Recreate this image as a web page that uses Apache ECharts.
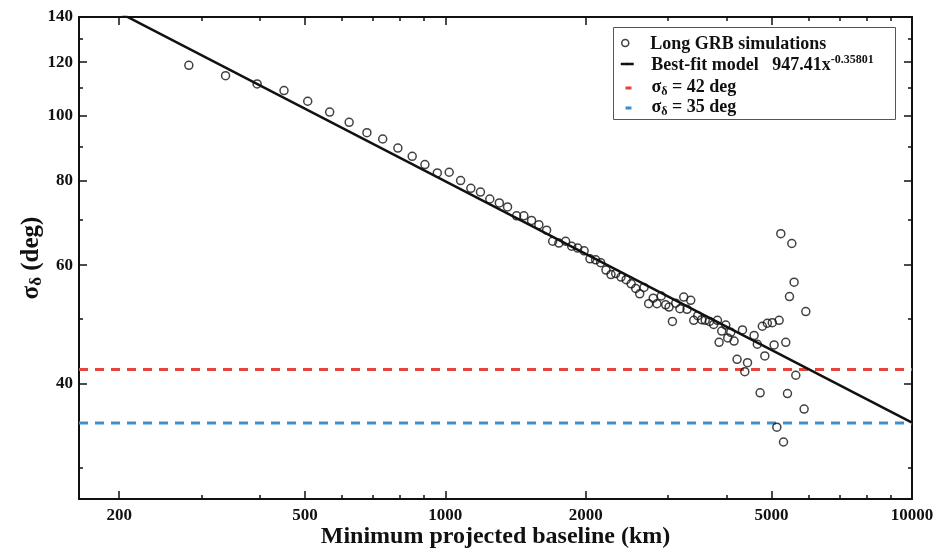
<!DOCTYPE html>
<html>
<head>
<meta charset="utf-8">
<script src="https://cdn.jsdelivr.net/npm/echarts@6/dist/echarts.min.js"></script>
<style>
  html, body { margin: 0; padding: 0; background: #fff; }
  #chart { width: 937px; height: 548px; }
</style>
</head>
<body>
<div id="chart"></div>
<script>
// Simulated long GRBs: minimum projected baseline (km) vs. localisation spread (deg)
const baselineKm = [
  282, 338, 395, 451, 507, 565, 622, 679, 734, 791,
  849, 904, 961, 1019, 1078, 1134, 1189, 1245, 1305, 1359,
  1421, 1473, 1530, 1586, 1648, 1698, 1751, 1810, 1865, 1921,
  1983, 2041, 2099, 2152, 2209, 2264, 2317, 2379, 2440, 2501,
  2558, 2609, 2665, 2727, 2789, 2841, 2901, 2966, 3015, 3066,
  3116, 3182, 3242, 3295, 3356, 3406, 3474, 3543, 3605, 3681,
  3758, 3829, 3911, 3989, 4089, 3860, 4029, 4156, 4332, 4218,
  4441, 4382, 4588, 4661, 4778, 4897, 4837, 5019, 5064, 5191,
  5364, 4726, 5409, 5132, 5304, 5234, 5526, 5589, 5463, 5636, 5872, 5921
];
const sigmaDeg = [
  118.7, 114.6, 111.4, 108.9, 105.0, 101.2, 97.7, 94.3, 92.3, 89.5,
  87.0, 84.6, 82.2, 82.4, 80.1, 78.0, 77.0, 75.2, 74.2, 73.2,
  71.0, 71.0, 69.9, 68.9, 67.6, 65.1, 64.7, 65.1, 64.0, 63.6,
  63.0, 61.3, 61.1, 60.5, 59.0, 58.1, 58.3, 57.6, 57.1, 56.3,
  55.4, 54.4, 55.6, 52.6, 53.6, 52.6, 54.0, 52.4, 52.0, 49.5,
  52.7, 51.7, 53.8, 51.6, 53.2, 49.7, 50.5, 49.8, 49.7, 49.5,
  49.0, 49.7, 47.9, 48.9, 47.7, 46.1, 46.8, 46.3, 48.1, 43.5,
  43.0, 41.7, 47.2, 45.8, 48.7, 49.2, 44.0, 49.3, 45.7, 49.7,
  46.1, 38.8, 38.7, 34.5, 32.8, 66.8, 64.6, 56.6, 53.9, 41.2, 36.7, 51.2
];

// Power-law fit 947.41 x^-0.35801, evaluated at its two ends (straight on log-log)
const fitKm = [200, 10000];
const fitSigma = [142.1, 35.05];

// Reference spreads (deg)
const thresholdSigma = [42, 35];
const thresholdNames = ['σδ = 42 deg', 'σδ = 35 deg'];

// Axis extents and tick marks
const xRange = [164, 10000];
const yRange = [27, 140];
const xMajorTicks = [200, 500, 1000, 2000, 5000, 10000];
const xMinorTicks = [300, 400, 600, 700, 800, 900, 3000, 4000, 6000, 7000, 8000, 9000];
const yMajorTicks = [40, 60, 80, 100, 120, 140];
const yMinorTicks = [30, 50, 70, 90, 110, 130];

const FONT = '"Liberation Serif", "Times New Roman", serif';
const INK = '#111';
const RED = '#e5453a';
const BLUE = '#3f8fcf';

const chart = echarts.init(document.getElementById('chart'), null, { renderer: 'canvas' });

function axisDef(dim, position, major, withLabels) {
  const range = dim === 'x' ? xRange : yRange;
  const majors = dim === 'x' ? xMajorTicks : yMajorTicks;
  const minors = dim === 'x' ? xMinorTicks : yMinorTicks;
  return {
    type: 'log',
    logBase: 10,
    min: range[0],
    max: range[1],
    position: position,
    gridIndex: 0,
    axisLine: { show: major, onZero: false, lineStyle: { color: INK, width: 2 } },
    axisTick: {
      show: true,
      inside: true,
      length: major ? 8 : 4,
      lineStyle: { color: INK, width: 1.5 },
      customValues: major ? majors : minors
    },
    axisLabel: {
      show: withLabels,
      customValues: majors,
      formatter: v => String(Math.round(v)),
      fontFamily: FONT,
      fontWeight: 'bold',
      fontSize: 17,
      color: INK,
      margin: dim === 'x' ? 8 : 6
    },
    splitLine: { show: false },
    minorTick: { show: false },
    minorSplitLine: { show: false }
  };
}

const xBottom = axisDef('x', 'bottom', true, true);
xBottom.name = 'Minimum projected baseline (km)';
xBottom.nameLocation = 'middle';
xBottom.nameGap = 26;
xBottom.nameMoveOverlap = false;
xBottom.nameTextStyle = { fontFamily: FONT, fontWeight: 'bold', fontSize: 24, color: INK };

const yLeft = axisDef('y', 'left', true, true);
yLeft.name = '{b|σ}{sub|δ}{b| (deg)}';
yLeft.nameLocation = 'middle';
yLeft.nameGap = 34;
yLeft.nameMoveOverlap = false;
yLeft.nameTextStyle = {
  color: INK,
  rich: {
    b: { fontFamily: FONT, fontWeight: 'bold', fontSize: 25, color: INK, lineHeight: 26, verticalAlign: 'top' },
    sub: { fontFamily: FONT, fontWeight: 'bold', fontSize: 17, color: INK, lineHeight: 16, padding: [12, 0, 0, 0], verticalAlign: 'bottom' }
  }
};

const legendRich = {
  b: { fontFamily: FONT, fontWeight: 'bold', fontSize: 18, color: INK, lineHeight: 20, verticalAlign: 'bottom' },
  sup: { fontFamily: FONT, fontWeight: 'bold', fontSize: 12, color: INK, lineHeight: 13, padding: [0, 0, 12, 0], verticalAlign: 'top' },
  bt: { fontFamily: FONT, fontWeight: 'bold', fontSize: 18, color: INK, lineHeight: 20, verticalAlign: 'top' },
  sub: { fontFamily: FONT, fontWeight: 'bold', fontSize: 12, color: INK, lineHeight: 13, padding: [9, 0, 0, 0], verticalAlign: 'bottom' }
};

function legendFormat(name) {
  if (name === 'Best-fit model') return '{b|Best-fit model   947.41x}{sup|-0.35801}';
  if (name.indexOf('σδ') === 0) return '{bt|σ}{sub|δ}{bt|' + name.slice(2) + '}';
  return '{b|' + name + '}';
}

function legendDef(name, iconCenterX, top, itemWidth, itemHeight, extra) {
  const left = iconCenterX - itemWidth / 2;
  const textStart = 650;
  return Object.assign({
    data: [name],
    left: left,
    top: top,
    orient: 'vertical',
    padding: 0,
    itemWidth: itemWidth,
    itemHeight: itemHeight,
    selectedMode: false,
    formatter: legendFormat,
    textStyle: {
      fontFamily: FONT, fontWeight: 'bold', fontSize: 18, color: INK,
      padding: [0, 0, 0, textStart - (left + itemWidth + 5)],
      rich: legendRich
    }
  }, extra || {});
}

const option = {
  animation: false,
  backgroundColor: '#fff',
  grid: { left: 79, right: 25, top: 17, bottom: 49, containLabel: false, outerBoundsMode: 'none' },
  xAxis: [
    xBottom,
    axisDef('x', 'bottom', false, false),
    axisDef('x', 'top', true, false),
    axisDef('x', 'top', false, false)
  ],
  yAxis: [
    yLeft,
    axisDef('y', 'left', false, false),
    axisDef('y', 'right', true, false),
    axisDef('y', 'right', false, false)
  ],
  legend: [
    legendDef('Long GRB simulations', 625, 35, 8, 7, {
      itemStyle: { color: 'transparent', borderColor: INK, borderWidth: 1.5 }
    }),
    legendDef('Best-fit model', 626, 54, 13, 3, {
      lineStyle: { width: 2.5 }
    }),
    legendDef(thresholdNames[0], 627, 77, 6, 3, {
      lineStyle: { width: 3 }
    }),
    legendDef(thresholdNames[1], 627, 97, 6, 3, {
      lineStyle: { width: 3 }
    })
  ],
  graphic: [{
    type: 'rect',
    shape: { x: 613.5, y: 27.5, width: 282, height: 92 },
    style: { fill: null, stroke: '#555', lineWidth: 1 },
    z: 10
  }],
  series: [
    {
      name: thresholdNames[0],
      type: 'line',
      data: [[xRange[0], thresholdSigma[0]], [xRange[1], thresholdSigma[0]]],
      showSymbol: false,
      symbol: 'none',
      color: RED,
      lineStyle: { color: RED, width: 3, type: [9, 7] },
      silent: true,
      z: 2
    },
    {
      name: thresholdNames[1],
      type: 'line',
      data: [[xRange[0], thresholdSigma[1]], [xRange[1], thresholdSigma[1]]],
      showSymbol: false,
      symbol: 'none',
      color: BLUE,
      lineStyle: { color: BLUE, width: 3, type: [9, 7] },
      silent: true,
      z: 2
    },
    {
      name: 'Best-fit model',
      type: 'line',
      data: fitKm.map((x, i) => [x, fitSigma[i]]),
      showSymbol: false,
      symbol: 'none',
      clip: true,
      color: INK,
      lineStyle: { color: INK, width: 2.5 },
      silent: true,
      z: 3
    },
    {
      name: 'Long GRB simulations',
      type: 'scatter',
      data: baselineKm.map((x, i) => [x, sigmaDeg[i]]),
      symbol: 'circle',
      symbolSize: 8,
      itemStyle: { color: 'transparent', borderColor: INK, borderWidth: 1.5 },
      z: 4
    }
  ]
};

chart.setOption(option);
</script>
</body>
</html>
